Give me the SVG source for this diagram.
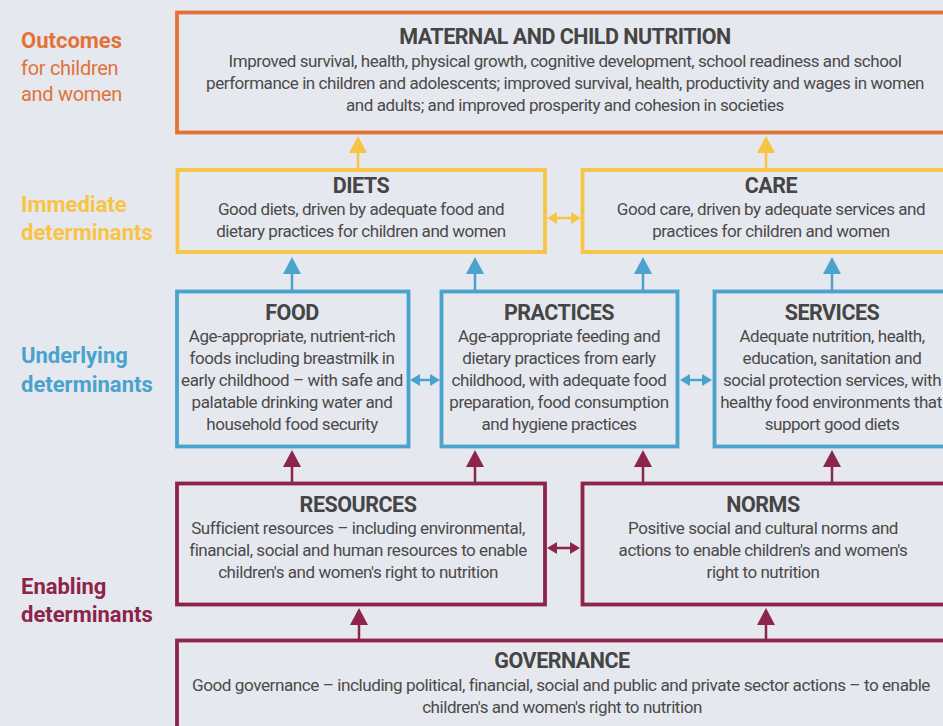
<svg xmlns="http://www.w3.org/2000/svg" width="943" height="726" viewBox="0 0 943 726">
<style>
text{font-family:Roboto,"Liberation Sans",sans-serif}
.t{font-size:21.5px;font-weight:700;fill:#454545;text-anchor:middle;letter-spacing:-0.5px}
.b{font-size:17px;fill:#4a4a4a;text-anchor:middle;letter-spacing:-0.45px}
.lab{font-size:22px;font-weight:700}
.box{fill:none;stroke-width:3.8}
.or{stroke:#E27237}.ye{stroke:#F7C444}.bl{stroke:#4AA3CC}.ma{stroke:#8D2449}
.c{fill:none;stroke-width:2.5}
</style>
<defs>
<marker id="hy" markerUnits="userSpaceOnUse" markerWidth="17" markerHeight="18" refX="0" refY="8.5" orient="auto" viewBox="0 0 16 17"><path d="M0,0L16,8.5L0,17z" fill="#F7C444"/></marker>
<marker id="hb" markerUnits="userSpaceOnUse" markerWidth="17" markerHeight="18" refX="0" refY="8.5" orient="auto" viewBox="0 0 16 17"><path d="M0,0L16,8.5L0,17z" fill="#4AA3CC"/></marker>
<marker id="hm" markerUnits="userSpaceOnUse" markerWidth="17" markerHeight="18" refX="0" refY="8.5" orient="auto" viewBox="0 0 16 17"><path d="M0,0L16,8.5L0,17z" fill="#8D2449"/></marker>
<marker id="dy" markerUnits="userSpaceOnUse" markerWidth="10" markerHeight="12" refX="0" refY="6" orient="auto-start-reverse" viewBox="0 0 10 12"><path d="M0,0L10,6L0,12z" fill="#F7C444"/></marker>
<marker id="db" markerUnits="userSpaceOnUse" markerWidth="10" markerHeight="12" refX="0" refY="6" orient="auto-start-reverse" viewBox="0 0 10 12"><path d="M0,0L10,6L0,12z" fill="#4AA3CC"/></marker>
<marker id="dm" markerUnits="userSpaceOnUse" markerWidth="10" markerHeight="12" refX="0" refY="6" orient="auto-start-reverse" viewBox="0 0 10 12"><path d="M0,0L10,6L0,12z" fill="#8D2449"/></marker>
</defs>
<rect width="943" height="726" fill="#E6E8EF"/>

<g id="labels">
<text class="lab" x="21" y="48" fill="#E27237">Outcomes</text>
<text x="21" y="75" fill="#E27237" style="font-size:20px;letter-spacing:-0.3px">for children</text>
<text x="21" y="101" fill="#E27237" style="font-size:20px;letter-spacing:-0.3px">and women</text>
<text class="lab" x="21" y="212" fill="#F7C444">Immediate</text>
<text class="lab" x="21" y="240" fill="#F7C444">determinants</text>
<text class="lab" x="21" y="363" fill="#4AA3CC">Underlying</text>
<text class="lab" x="21" y="392" fill="#4AA3CC">determinants</text>
<text class="lab" x="21" y="594" fill="#8D2449">Enabling</text>
<text class="lab" x="21" y="622" fill="#8D2449">determinants</text>
</g>

<g id="connectors">
<path class="c" stroke="#F7C444" d="M358,168V153" marker-end="url(#hy)"/>
<path class="c" stroke="#F7C444" d="M766,168V153" marker-end="url(#hy)"/>
<path class="c" stroke="#F7C444" d="M557,218H571" marker-start="url(#dy)" marker-end="url(#dy)"/>
<path class="c" stroke="#4AA3CC" d="M292,290V274" marker-end="url(#hb)"/>
<path class="c" stroke="#4AA3CC" d="M475,290V274" marker-end="url(#hb)"/>
<path class="c" stroke="#4AA3CC" d="M643,290V274" marker-end="url(#hb)"/>
<path class="c" stroke="#4AA3CC" d="M832,290V274" marker-end="url(#hb)"/>
<path class="c" stroke="#4AA3CC" d="M420,380H430" marker-start="url(#db)" marker-end="url(#db)"/>
<path class="c" stroke="#4AA3CC" d="M690,380H702" marker-start="url(#db)" marker-end="url(#db)"/>
<path class="c" stroke="#8D2449" d="M292,482V467" marker-end="url(#hm)"/>
<path class="c" stroke="#8D2449" d="M475,482V467" marker-end="url(#hm)"/>
<path class="c" stroke="#8D2449" d="M643,482V467" marker-end="url(#hm)"/>
<path class="c" stroke="#8D2449" d="M832,482V467" marker-end="url(#hm)"/>
<path class="c" stroke="#8D2449" d="M557,548H570" marker-start="url(#dm)" marker-end="url(#dm)"/>
<path class="c" stroke="#8D2449" d="M359,639V625" marker-end="url(#hm)"/>
<path class="c" stroke="#8D2449" d="M766,639V625" marker-end="url(#hm)"/>
</g>

<g id="nutrition">
<rect class="box or" x="177" y="12.5" width="800" height="120"/>
<text class="t" x="565" y="44">MATERNAL AND CHILD NUTRITION</text>
<text class="b" x="565" y="67">Improved survival, health, physical growth, cognitive development, school readiness and school</text>
<text class="b" x="565" y="89">performance in children and adolescents; improved survival, health, productivity and wages in women</text>
<text class="b" x="565" y="111">and adults; and improved prosperity and cohesion in societies</text>
</g>

<g id="diets">
<rect class="box ye" x="177.5" y="170" width="367.5" height="82"/>
<text class="t" x="361" y="193">DIETS</text>
<text class="b" x="361" y="215">Good diets, driven by adequate food and</text>
<text class="b" x="361" y="237">dietary practices for children and women</text>
</g>

<g id="care">
<rect class="box ye" x="582.5" y="170" width="400" height="82"/>
<text class="t" x="771" y="193">CARE</text>
<text class="b" x="771" y="215">Good care, driven by adequate services and</text>
<text class="b" x="771" y="237">practices for children and women</text>
</g>

<g id="food">
<rect class="box bl" x="177" y="291.5" width="231.5" height="155"/>
<text class="t" x="292" y="320">FOOD</text>
<text class="b" x="292" y="342">Age-appropriate, nutrient-rich</text>
<text class="b" x="292" y="364">foods including breastmilk in</text>
<text class="b" x="292" y="386">early childhood – with safe and</text>
<text class="b" x="292" y="408">palatable drinking water and</text>
<text class="b" x="292" y="430">household food security</text>
</g>

<g id="practices">
<rect class="box bl" x="441.5" y="291.5" width="236" height="155"/>
<text class="t" x="559" y="320">PRACTICES</text>
<text class="b" x="559" y="342">Age-appropriate feeding and</text>
<text class="b" x="559" y="364">dietary practices from early</text>
<text class="b" x="559" y="386">childhood, with adequate food</text>
<text class="b" x="559" y="408">preparation, food consumption</text>
<text class="b" x="559" y="430">and hygiene practices</text>
</g>

<g id="services">
<rect class="box bl" x="714.5" y="291.5" width="300" height="155"/>
<text class="t" x="832" y="320">SERVICES</text>
<text class="b" x="832" y="342">Adequate nutrition, health,</text>
<text class="b" x="832" y="364">education, sanitation and</text>
<text class="b" x="832" y="386">social protection services, with</text>
<text class="b" x="831" y="408">healthy food environments that</text>
<text class="b" x="832" y="430">support good diets</text>
</g>

<g id="resources">
<rect class="box ma" x="177" y="483.5" width="368" height="121"/>
<text class="t" x="358" y="512">RESOURCES</text>
<text class="b" x="358" y="534">Sufficient resources – including environmental,</text>
<text class="b" x="358" y="556">financial, social and human resources to enable</text>
<text class="b" x="358" y="578">children's and women's right to nutrition</text>
</g>

<g id="norms">
<rect class="box ma" x="582.5" y="483.5" width="400" height="121"/>
<text class="t" x="763" y="512">NORMS</text>
<text class="b" x="763" y="534">Positive social and cultural norms and</text>
<text class="b" x="763" y="556">actions to enable children's and women's</text>
<text class="b" x="763" y="578">right to nutrition</text>
</g>

<g id="governance">
<rect class="box ma" x="177" y="640.5" width="800" height="120"/>
<text class="t" x="562" y="668">GOVERNANCE</text>
<text class="b" x="192" y="691" style="text-anchor:start" textLength="738" lengthAdjust="spacingAndGlyphs">Good governance – including political, financial, social and public and private sector actions – to enable</text>
<text class="b" x="562" y="713">children's and women's right to nutrition</text>
</g>
</svg>
